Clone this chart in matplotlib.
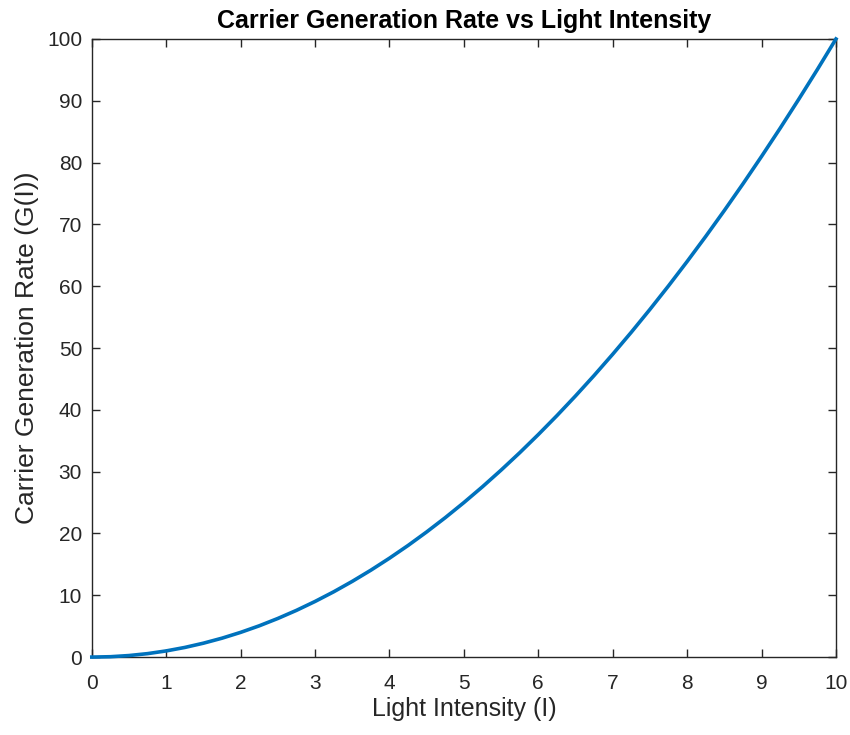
import numpy as np
import matplotlib
matplotlib.use("Agg")
import matplotlib.pyplot as plt

# valeurs (pas de 0.25)
intensity = [0.0, 0.25, 0.5, 0.75, 1.0, 1.25, 1.5, 1.75, 2.0, 2.25, 2.5,
             2.75, 3.0, 3.25, 3.5, 3.75, 4.0, 4.25, 4.5, 4.75, 5.0,
             5.25, 5.5, 5.75, 6.0, 6.25, 6.5, 6.75, 7.0, 7.25, 7.5,
             7.75, 8.0, 8.25, 8.5, 8.75, 9.0, 9.25, 9.5, 9.75, 10.0]
gen_rate = [0.0, 0.06, 0.25, 0.56, 1.0, 1.56, 2.25, 3.06, 4.0, 5.06, 6.25,
            7.56, 9.0, 10.56, 12.25, 14.06, 16.0, 18.06, 20.25, 22.56, 25.0,
            27.56, 30.25, 33.06, 36.0, 39.06, 42.25, 45.56, 49.0, 52.56, 56.25,
            60.06, 64.0, 68.06, 72.25, 76.56, 81.0, 85.56, 90.25, 95.06, 100.0]
x_ticks = [0, 1, 2, 3, 4, 5, 6, 7, 8, 9, 10]
y_ticks = [0, 10, 20, 30, 40, 50, 60, 70, 80, 90, 100]

plt.rcParams['font.family'] = ['Liberation Sans', 'DejaVu Sans']
dark = "#262626"

fig = plt.figure(figsize=(8.5, 7.35), dpi=100)
ax = fig.add_axes([0.108, 0.106, 0.8755, 0.841])
ax.plot(intensity, gen_rate, color="#0072BD", linewidth=2.6, clip_on=False,
        zorder=3, solid_joinstyle="round")
ax.set_xlim(0, 10)
ax.set_ylim(0, 100)
ax.set_xticks(x_ticks)
ax.set_yticks(y_ticks)
ax.tick_params(direction="in", top=True, right=True, length=6, width=1,
               labelsize=15, colors=dark)
ax.tick_params(axis="x", pad=12)
ax.tick_params(axis="y", pad=7)
for sp in ax.spines.values():
    sp.set_color(dark)
    sp.set_linewidth(1)
ax.set_xlabel("Light Intensity (I)", fontsize=18, color=dark, labelpad=3)
ax.set_ylabel("Carrier Generation Rate (G(I))", fontsize=19, color=dark, labelpad=6)
ax.set_title("Carrier Generation Rate vs Light Intensity", fontsize=18,
             fontweight="bold", color="black", pad=8)
fig.savefig("out.png", dpi=100)
